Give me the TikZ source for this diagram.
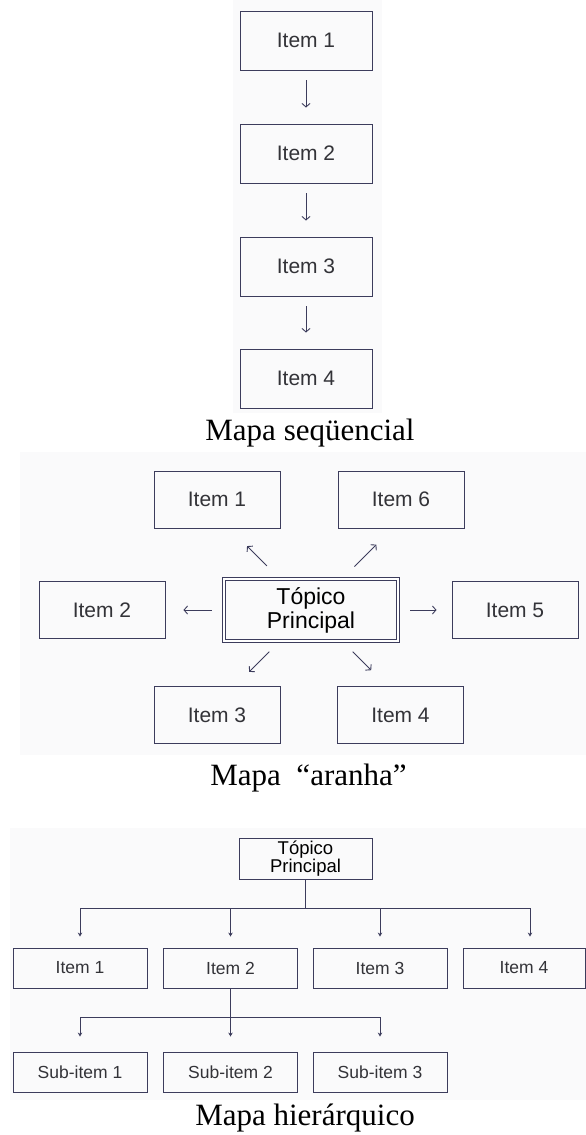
\documentclass[tikz,border=0pt]{standalone}
\usepackage{fontspec}
\setmainfont{Liberation Serif}
\newfontfamily\boxfont{Liberation Sans}
\usetikzlibrary{arrows.meta}
\definecolor{edge}{HTML}{3C3C5C}
\definecolor{txt}{HTML}{333338}
\definecolor{bgc}{HTML}{FAFAFB}
\begin{document}
\begin{tikzpicture}[x=1pt,y=-1pt,
  seqbox/.style={draw=edge, line width=0.9pt, text=txt, inner sep=0pt,
    font=\boxfont\fontsize{21}{24}\selectfont, minimum width=132pt, minimum height=59pt},
  spbox/.style={draw=edge, line width=0.9pt, text=txt, inner sep=0pt,
    font=\boxfont\fontsize{21}{24}\selectfont, minimum width=126pt, minimum height=57pt},
  hbox/.style={draw=edge, line width=0.9pt, text=txt, inner sep=0pt,
    font=\boxfont\fontsize{17.5}{20}\selectfont, minimum width=134pt, minimum height=40pt},
  sarr/.style={draw=edge, line width=0.9pt, -{Straight Barb[length=3.5pt,width=8pt]}},
  harr/.style={draw=edge, line width=0.8pt, -{Stealth[length=4pt,width=4.5pt]}},
  hline/.style={draw=edge, line width=0.8pt},
  caption/.style={anchor=base, inner sep=0pt, font=\fontsize{31}{36}\selectfont, text=black}
]
\useasboundingbox (0,0) rectangle (586,1135);
% light backgrounds of the three screenshots
\fill[bgc] (233,0) rectangle (382,413);
\fill[bgc] (20,452) rectangle (586,755);
\fill[bgc] (10,828) rectangle (586,1100);

% ---- sequential map
\node[seqbox] (s1) at (306,40.5) {Item 1};
\node[seqbox] (s2) at (306,153.5) {Item 2};
\node[seqbox] (s3) at (306,266.5) {Item 3};
\node[seqbox] (s4) at (306,378.5) {Item 4};
\draw[sarr, shorten <=10pt, shorten >=16pt] (s1) -- (s2);
\draw[sarr, shorten <=10pt, shorten >=16pt] (s2) -- (s3);
\draw[sarr, shorten <=10pt, shorten >=16pt] (s3) -- (s4);
\node[caption] (cap1) at (310,440) {Mapa seqüencial};

% ---- spider map
\node[draw=edge, double, double distance=2pt, line width=0.8pt, inner sep=0pt,
  minimum width=174pt, minimum height=62pt, align=center, text=black,
  font=\boxfont\fontsize{23}{24}\selectfont] (c) at (311,610) {Tópico\\Principal};
\node[spbox] (p1) at (217,499.5) {Item 1};
\node[spbox] (p6) at (401,499.5) {Item 6};
\node[spbox] (p2) at (102,610) {Item 2};
\node[spbox] (p5) at (515,610) {Item 5};
\node[spbox] (p3) at (217,715) {Item 3};
\node[spbox] (p4) at (400.5,715) {Item 4};
\draw[sarr, shorten <=11.8pt, shorten >=18pt] (c) -- (p2);
\draw[sarr, shorten <=11.8pt, shorten >=15pt] (c) -- (p5);
\draw[sarr] ([shift={(135:18pt)}]c.135) -- ([shift={(135:46pt)}]c.135);
\draw[sarr] ([shift={(45:17pt)}]c.45) -- ([shift={(45:48pt)}]c.45);
\draw[sarr] ([shift={(225:14.6pt)}]c.225) -- ([shift={(225:43pt)}]c.225);
\draw[sarr] ([shift={(315:14.6pt)}]c.315) -- ([shift={(315:40.7pt)}]c.315);
\node[caption] (cap2) at (308.5,785) {Mapa\ \ “aranha”};

% ---- hierarchical map
\node[hbox, minimum width=133pt, minimum height=41pt, align=center, text=black,
  font=\boxfont\fontsize{18.5}{17}\selectfont] (top) at (305.5,858.5) {Tópico\\Principal};
\node[hbox] (h1) at (80,968) {Item 1};
\node[hbox] (h2) at (230.5,968) {Item 2};
\node[hbox] (h3) at (380,968) {Item 3};
\node[hbox, minimum width=122pt] (h4) at (524,968) {Item 4};
\node[hbox] (u1) at (80,1072) {Sub-item 1};
\node[hbox] (u2) at (230.5,1072) {Sub-item 2};
\node[hbox] (u3) at (380,1072) {Sub-item 3};
\draw[hline] (top.south) -- ++(0,29) coordinate (hb);
\draw[harr] (hb) -| ([yshift=11pt]h1.north);
\draw[harr] (hb) -| ([yshift=11pt]h2.north);
\draw[harr] (hb) -| ([yshift=11pt]h3.north);
\draw[harr] (hb) -| ([xshift=6pt,yshift=11pt]h4.north);
\draw[hline] (h2.south) -- ++(0,29) coordinate (sb);
\draw[harr] (sb) -| ([yshift=15pt]u1.north);
\draw[harr] (sb) -- ([yshift=15pt]u2.north);
\draw[harr] (sb) -| ([yshift=15pt]u3.north);
\node[caption] (cap3) at (305,1125) {Mapa hierárquico};
\end{tikzpicture}
\end{document}
